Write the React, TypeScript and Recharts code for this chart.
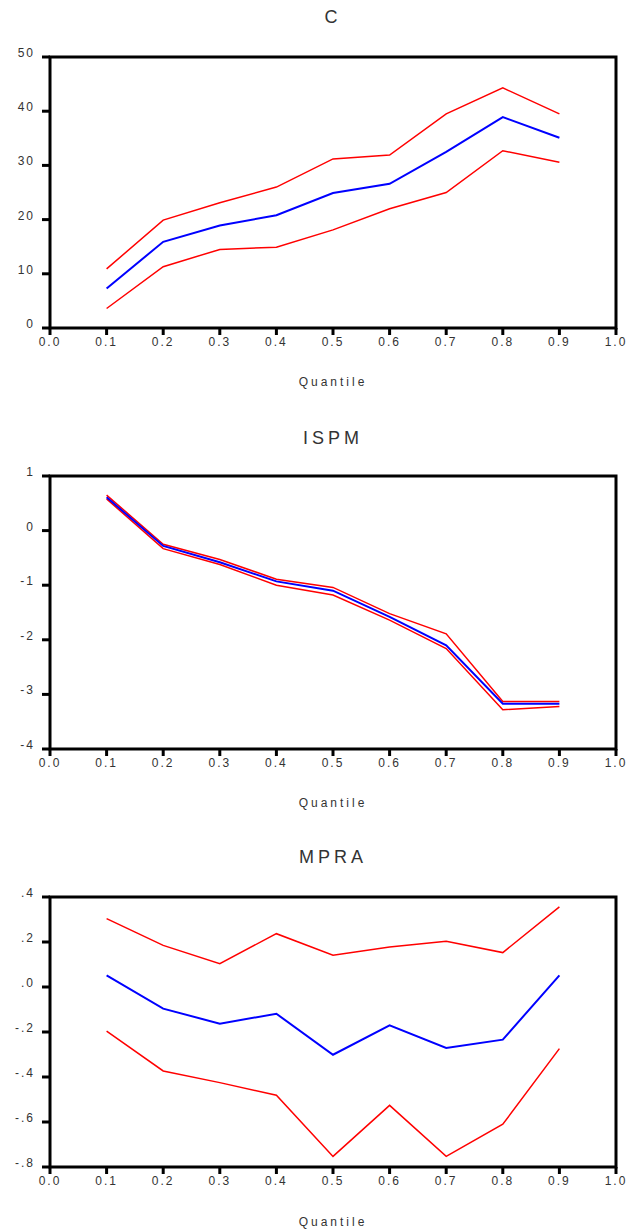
import React from 'react';
import { LineChart, Line, XAxis, YAxis, ReferenceArea } from 'recharts';

const quantiles = [0.1, 0.2, 0.3, 0.4, 0.5, 0.6, 0.7, 0.8, 0.9];
const xTicks = [0, 0.1, 0.2, 0.3, 0.4, 0.5, 0.6, 0.7, 0.8, 0.9, 1.0];

const cMid = [7.3, 15.9, 18.9, 20.8, 24.9, 26.6, 32.5, 38.9, 35.1];
const cUp = [10.9, 19.9, 23.1, 26.0, 31.2, 31.9, 39.5, 44.3, 39.5];
const cLow = [3.6, 11.3, 14.5, 14.9, 18.1, 22.0, 25.0, 32.7, 30.6];
const cTicks = [0, 10, 20, 30, 40, 50];

const ispmMid = [0.61, -0.28, -0.58, -0.93, -1.1, -1.58, -2.1, -3.17, -3.17];
const ispmUp = [0.65, -0.25, -0.53, -0.89, -1.04, -1.52, -1.89, -3.13, -3.13];
const ispmLow = [0.58, -0.33, -0.62, -1.0, -1.18, -1.64, -2.16, -3.28, -3.22];
const ispmTicks = [-4, -3, -2, -1, 0, 1];

const mpraMid = [0.052, -0.096, -0.163, -0.119, -0.301, -0.17, -0.271, -0.234, 0.052];
const mpraUp = [0.304, 0.185, 0.104, 0.237, 0.141, 0.178, 0.203, 0.153, 0.356];
const mpraLow = [-0.196, -0.373, -0.425, -0.481, -0.753, -0.526, -0.753, -0.61, -0.274];
const mpraTicks = [-0.8, -0.6, -0.4, -0.2, 0, 0.2, 0.4];

const FONT = '"Liberation Sans", Arial, sans-serif';
const TEXT = '#333';

function rows(mid: number[], up: number[], low: number[]) {
  return quantiles.map((q, i) => ({ q, mid: mid[i], up: up[i], low: low[i] }));
}

const intFmt = (v: number) => String(v);
const decFmt = (v: number) => (v < 0 ? '-' : '') + '.' + Math.round(Math.abs(v) * 10);

function YTick(props: any) {
  const { x, y, payload, fmt } = props;
  return (
    <text x={x} y={y} dy={-4} textAnchor="end" dominantBaseline="central"
      fontFamily={FONT} fontSize={12} letterSpacing={2} fill={TEXT}>
      {fmt(payload.value)}
    </text>
  );
}

interface PanelProps {
  title: string;
  top: number;
  height: number;
  plotTop: number;
  plotBottom: number;
  data: { q: number; mid: number; up: number; low: number }[];
  domain: [number, number];
  yTicks: number[];
  fmt: (v: number) => string;
  labelY: number;
  titleY: number;
}

function Panel({ title, top, height, plotTop, plotBottom, data, domain, yTicks, fmt, labelY, titleY }: PanelProps) {
  return (
    <div style={{ position: 'absolute', left: 0, top, width: 629, height }}>
      <div style={{ position: 'absolute', left: 50, width: 566, top: titleY - 10, height: 20, lineHeight: '20px',
        textAlign: 'center', fontFamily: FONT, fontSize: 18, letterSpacing: 4, color: TEXT }}>{title}</div>
      <LineChart width={629} height={height} data={data}
        margin={{ top: plotTop, right: 13, left: 0, bottom: 0 }}>
        <XAxis dataKey="q" type="number" domain={[0, 1]} ticks={xTicks} height={height - plotBottom}
          tickFormatter={(v: number) => v.toFixed(1)} axisLine={false}
          tickLine={{ stroke: '#000', strokeWidth: 3 }} tickSize={7} tickMargin={2}
          tick={{ fontFamily: FONT, fontSize: 12, letterSpacing: 2, fill: TEXT }} />
        <YAxis type="number" domain={domain} ticks={yTicks} width={50} axisLine={false}
          tickLine={{ stroke: '#000', strokeWidth: 3 }} tickSize={8} tickMargin={7}
          tick={<YTick fmt={fmt} />} />
        <Line dataKey="up" type="linear" stroke="#ff0000" strokeWidth={1.5} dot={false} isAnimationActive={false} />
        <Line dataKey="low" type="linear" stroke="#ff0000" strokeWidth={1.5} dot={false} isAnimationActive={false} />
        <Line dataKey="mid" type="linear" stroke="#0000ff" strokeWidth={2} dot={false} isAnimationActive={false} />
        <ReferenceArea x1={0} x2={1} y1={domain[0]} y2={domain[1]} fill="none" stroke="#000"
          strokeWidth={3} ifOverflow="visible" />
      </LineChart>
      <div style={{ position: 'absolute', left: 50, width: 566, top: labelY - 8, height: 16, lineHeight: '16px',
        textAlign: 'center', fontFamily: FONT, fontSize: 12, letterSpacing: 3, color: TEXT }}>Quantile</div>
    </div>
  );
}

export default function App() {
  return (
    <div style={{ position: 'absolute', left: 0, top: 0, width: 629, height: 1230, background: '#fff' }}>
      <Panel title="C" top={0} height={400} plotTop={57} plotBottom={328}
        data={rows(cMid, cUp, cLow)} domain={[0, 50]} yTicks={cTicks} fmt={intFmt}
        labelY={382} titleY={17} />
      <Panel title="ISPM" top={400} height={420} plotTop={76} plotBottom={349}
        data={rows(ispmMid, ispmUp, ispmLow)} domain={[-4, 1]} yTicks={ispmTicks} fmt={intFmt}
        labelY={403} titleY={38} />
      <Panel title="MPRA" top={820} height={410} plotTop={77} plotBottom={347}
        data={rows(mpraMid, mpraUp, mpraLow)} domain={[-0.8, 0.4]} yTicks={mpraTicks} fmt={decFmt}
        labelY={402} titleY={37} />
    </div>
  );
}
